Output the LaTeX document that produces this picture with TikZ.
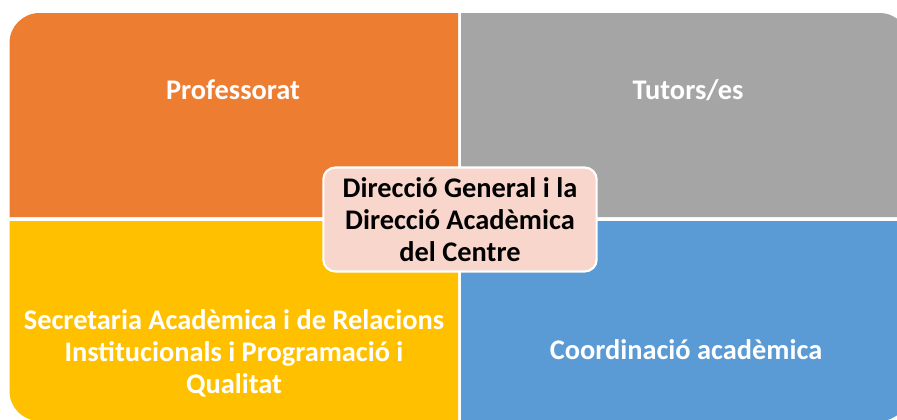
\documentclass[tikz,border=0pt]{standalone}
\usepackage{fontspec}
\setmainfont{Carlito}
\definecolor{qorange}{HTML}{ED7D31}
\definecolor{qgray}{HTML}{A5A5A5}
\definecolor{qyellow}{HTML}{FFC000}
\definecolor{qblue}{HTML}{5B9BD5}
\definecolor{qpink}{HTML}{F8D6CC}
\tikzset{
  qlabel/.style={text=white, font=\fontsize{21.3pt}{24pt}\selectfont\bfseries, align=center, inner sep=0pt},
  centerbox/.style={fill=qpink, draw=white, line width=1.6pt, rounded corners=9pt,
    minimum width=205pt, minimum height=78pt, inner sep=0pt, align=center,
    font=\fontsize{21.3pt}{24pt}\selectfont\bfseries, text=black}
}
\begin{document}
\begin{tikzpicture}[x=0.75pt,y=-0.75pt]
\useasboundingbox (0,0) rectangle (897,419);
\clip (0,0) rectangle (897,419);
\fill[white] (0,0) rectangle (897,419);
% quadrants
\fill[qorange] (9.5,217) [rounded corners=22.5pt] -- (9.5,13) [sharp corners] -- (458,13) -- (458,217) -- cycle;
\fill[qgray] (461,217) -- (461,13) [rounded corners=22.5pt] -- (909.5,13) [sharp corners] -- (909.5,217) -- cycle;
\fill[qyellow] (458,221) -- (9.5,221) [rounded corners=22.5pt] -- (9.5,421) [sharp corners] -- (458,421) -- cycle;
\fill[qblue] (461,221) -- (909.5,221) [rounded corners=22.5pt] -- (909.5,421) [sharp corners] -- (461,421) -- cycle;
% labels
\node[qlabel] (prof) at (233,90) {Professorat};
\node[qlabel] (tut) at (688,90) {Tutors/es};
\node[qlabel] (secr) at (234,353) {Secretaria Acadèmica i de Relacions\\Institucionals i Programació i\\Qualitat};
\node[qlabel] (coord) at (686,350) {Coordinació acadèmica};
\node[centerbox] (dir) at (460,219.5) {Direcció General i la\\Direcció Acadèmica\\del Centre};
\end{tikzpicture}
\end{document}
